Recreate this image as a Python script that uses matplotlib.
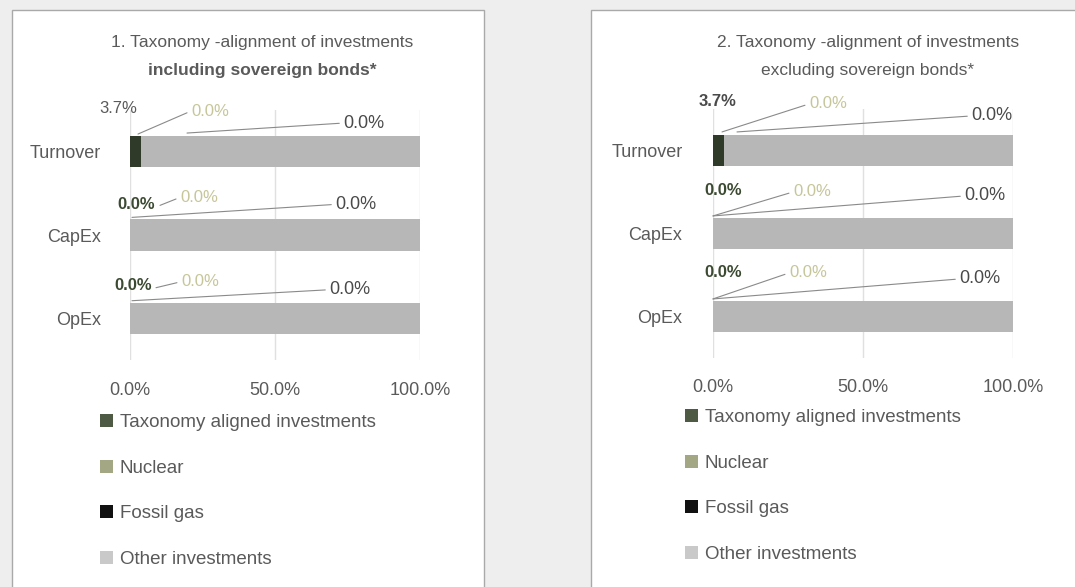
import matplotlib
matplotlib.use("Agg")
import matplotlib.pyplot as plt
from matplotlib.patches import Rectangle, Patch
from matplotlib.transforms import offset_copy

plt.rcParams['font.family'] = ['Liberation Sans', 'DejaVu Sans']

# ---------------- data ----------------
categories = ["Turnover", "CapEx", "OpEx"]
series_names = ["Taxonomy aligned investments", "Nuclear", "Fossil gas", "Other investments"]

p1_aligned = [3.7, 0.0, 0.0]
p1_nuclear = [0.0, 0.0, 0.0]
p1_fossil = [0.0, 0.0, 0.0]
p1_other = [96.3, 100.0, 100.0]

p2_aligned = [3.7, 0.0, 0.0]
p2_nuclear = [0.0, 0.0, 0.0]
p2_fossil = [0.0, 0.0, 0.0]
p2_other = [96.3, 100.0, 100.0]

x_ticks = [0, 50, 100]
x_tick_labels = ["0.0%", "50.0%", "100.0%"]

titles = [("1. Taxonomy -alignment of investments", "including sovereign bonds*"),
          ("2. Taxonomy -alignment of investments", "excluding sovereign bonds*")]

# ---------------- styles ----------------
W, H = 1075, 587
bar_colors = ["#2f3b28", "#a3a784", "#111111", "#b7b7b7"]
legend_colors = ["#4f5a45", "#a3a784", "#111111", "#c9c9c9"]
txt_gray = "#5a5a5a"
green_lbl = "#3c4a32"
nuc_lbl = "#c6c69a"
line_col = "#8a8a8a"
bar_h = 0.375

fig = plt.figure(figsize=(W / 100, H / 100), dpi=100)
fig.patch.set_facecolor("#eeeeee")


def fx(px):
    return px / W


def fy(py):
    return 1 - py / H


# panel backgrounds
for (x0, x1) in [(12, 484), (591, 1090)]:
    fig.patches.append(Rectangle((fx(x0), fy(590)), fx(x1 - x0), (590 - 10) / H,
                                 transform=fig.transFigure, facecolor="white",
                                 edgecolor="#a9a9a9", linewidth=1.0, zorder=-5))

# layout per panel: axes box (px), tick pad, label offsets
# offsets: (line_start_dx, line_start_dy, text_dx, text_dy) in pixels relative to bar top-left (y up)
panels = [
    dict(box=(130, 420, 110, 360), data=(p1_aligned, p1_nuclear, p1_fossil, p1_other),
         tickpad=16, ypad=21, title_x=262, title_y=(43, 70), title_bold=True,
         leg=(100, 414),
         tax=[(None, None, -12, 28), (None, None, 6, 15), (None, None, 3, 17)],
         tax_style=[("normal", txt_gray), ("bold", green_lbl), ("bold", green_lbl)],
         nuc=[(8, 2, 80, 25), (30, 14, 69, 22), (26, 15, 70, 21)],
         fos=[(57, 3, 234, 13), (2, 2, 226, 15), (2, 2, 220, 13)]),
    dict(box=(713, 1013, 109, 358), data=(p2_aligned, p2_nuclear, p2_fossil, p2_other),
         tickpad=15, ypad=22, title_x=868, title_y=(43, 70), title_bold=False,
         leg=(685, 409),
         tax=[(None, None, 5, 33), (None, None, 10, 27), (None, None, 10, 28)],
         tax_style=[("bold", "#4a4a4a"), ("bold", green_lbl), ("bold", green_lbl)],
         nuc=[(9, 3, 115, 31), (0, 2, 99, 26), (0, 2, 95, 28)],
         fos=[(24, 3, 279, 19), (0, 2, 272, 22), (0, 2, 267, 22)]),
]

for k, pan in enumerate(panels):
    l, r, t, b = pan["box"]
    ax = fig.add_axes([fx(l), fy(b), fx(r - l), (b - t) / H])
    ax.set_facecolor("none")
    ax.set_zorder(2)
    aligned, nuclear, fossil, other = pan["data"]
    ypos = list(range(len(categories)))
    left = [0.0] * len(categories)
    for vals, col in zip((aligned, nuclear, fossil, other), bar_colors):
        ax.barh(ypos, vals, left=left, height=bar_h, color=col, zorder=3)
        left = [a + v for a, v in zip(left, vals)]
    ax.set_xlim(0, 100)
    ax.set_ylim(len(categories) - 0.5, -0.5)
    ax.set_xticks(x_ticks)
    ax.set_xticklabels(x_tick_labels, fontsize=13, color=txt_gray)
    ax.set_yticks(ypos)
    ax.set_yticklabels(categories, fontsize=13, color=txt_gray)
    ax.tick_params(axis="x", length=0, pad=pan["tickpad"])
    ax.tick_params(axis="y", length=0, pad=pan["ypad"])
    for s in ax.spines.values():
        s.set_visible(False)
    ax.grid(axis="x", color="#e0e0e0", linewidth=1.0, zorder=0)

    # value labels
    for i in range(len(categories)):
        y_top = i - bar_h / 2
        _, _, tdx, tdy = pan["tax"][i]
        wgt, col = pan["tax_style"][i]
        ax.annotate(f"{aligned[i]:.1f}%", xy=(0, y_top), xytext=(tdx, tdy),
                    textcoords="offset pixels", ha="center", va="center",
                    fontsize=12, fontweight=wgt, color=col, zorder=5,
                    annotation_clip=False)
        for vals, key, colr, fs in ((nuclear, "nuc", nuc_lbl, 12), (fossil, "fos", "#4a4a4a", 13)):
            sdx, sdy, tdx, tdy = pan[key][i]
            tr = offset_copy(ax.transData, fig=fig, x=sdx, y=sdy, units="dots")
            ax.annotate(f"{vals[i]:.1f}%", xy=(0, y_top), xycoords=tr,
                        xytext=(tdx - sdx, tdy - sdy), textcoords="offset pixels",
                        ha="center", va="center", fontsize=fs, color=colr, zorder=5,
                        annotation_clip=False,
                        arrowprops=dict(arrowstyle="-", color=line_col, lw=0.8,
                                        shrinkA=1, shrinkB=0, relpos=(0, 0.5)))

    # titles
    fig.text(fx(pan["title_x"]), fy(pan["title_y"][0]), titles[k][0],
             ha="center", va="center", fontsize=12.5, color=txt_gray)
    fig.text(fx(pan["title_x"]), fy(pan["title_y"][1]), titles[k][1],
             ha="center", va="center", fontsize=12.5, color=txt_gray,
             fontweight="bold" if pan["title_bold"] else "normal")

    # legend
    handles = [Patch(facecolor=c, edgecolor="none") for c in legend_colors]
    lx, ly = pan["leg"]
    fig.legend(handles, series_names, loc="upper left",
               bbox_to_anchor=(fx(lx), fy(ly)), frameon=False,
               fontsize=13.5, labelcolor=txt_gray, handlelength=0.7,
               handleheight=0.7, handletextpad=0.35, labelspacing=1.52,
               borderpad=0, borderaxespad=0)

fig.savefig("out.png", dpi=100, facecolor=fig.get_facecolor())
